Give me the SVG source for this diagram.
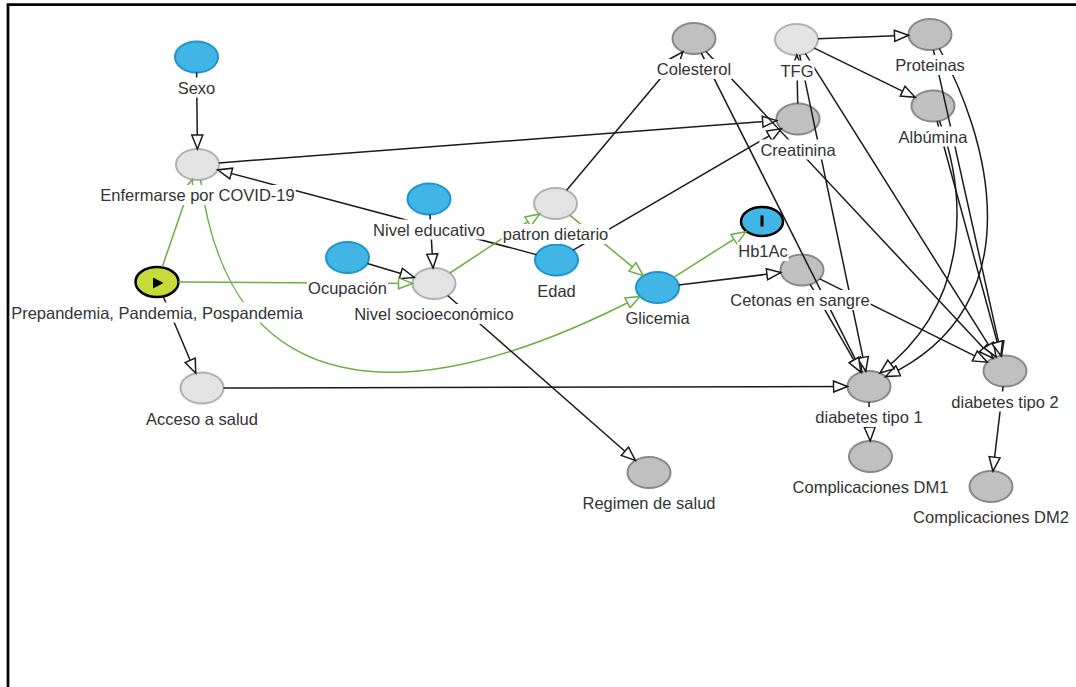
<svg xmlns="http://www.w3.org/2000/svg" width="1076" height="687" viewBox="0 0 1076 687">
<style>
.lbl{font-family:"Liberation Sans",Arial,sans-serif;font-size:16.5px;fill:#333;text-anchor:middle}
.bg{fill:#fff}
.e{fill:none;stroke:#1a1a1a;stroke-width:1.5;marker-end:url(#ab)}
.g{fill:none;stroke:#6aae45;stroke-width:1.5;marker-end:url(#ag)}
.blue{fill:#41b6e6;stroke:#1b95cf;stroke-width:2}
.lg{fill:#e3e3e3;stroke:#b0b0b0;stroke-width:2}
.dg{fill:#c0c0c0;stroke:#888;stroke-width:2}
.exp{fill:#c6da3a;stroke:#000;stroke-width:2.5}
.out{fill:#41b6e6;stroke:#000;stroke-width:2.5}
</style>
<defs>
<marker id="ab" markerUnits="userSpaceOnUse" markerWidth="18" markerHeight="14" refX="15" refY="6.5" orient="auto"><path d="M1,1 L15,6.5 L1,12 Z" fill="#fff" stroke="#1a1a1a" stroke-width="1.5"/></marker>
<marker id="ag" markerUnits="userSpaceOnUse" markerWidth="18" markerHeight="14" refX="15" refY="6.5" orient="auto"><path d="M1,1 L15,6.5 L1,12 Z" fill="#fff" stroke="#6aae45" stroke-width="1.5"/></marker>
</defs>
<rect width="1076" height="687" fill="#fff"/>
<g id="frame" stroke="#000" stroke-width="2.7">
<line x1="6.7" y1="4.7" x2="1076" y2="4.7"/>
<line x1="8" y1="4.7" x2="8" y2="687"/>
</g>
<g id="nodes">
<g id="n-sexo"><ellipse class="blue" cx="196.5" cy="57" rx="21.5" ry="15.5"/></g>
<g id="n-enfermarse"><ellipse class="lg" cx="197.5" cy="164.5" rx="21.5" ry="15.5"/></g>
<g id="n-prepandemia"><ellipse class="exp" cx="157" cy="282" rx="21.5" ry="15"/><path d="M153,277.5 L163.5,283 L153,288.5 Z" fill="#000"/></g>
<g id="n-acceso"><ellipse class="lg" cx="202" cy="388" rx="21.5" ry="15.5"/></g>
<g id="n-niveleducativo"><ellipse class="blue" cx="429" cy="199" rx="21.5" ry="15.5"/></g>
<g id="n-ocupacion"><ellipse class="blue" cx="347.5" cy="257.5" rx="21.5" ry="15.5"/></g>
<g id="n-nse"><ellipse class="lg" cx="434" cy="283.5" rx="21.5" ry="15.5"/></g>
<g id="n-patron"><ellipse class="lg" cx="555.5" cy="203.5" rx="21.5" ry="15.5"/></g>
<g id="n-edad"><ellipse class="blue" cx="556.5" cy="260" rx="21.5" ry="15.5"/></g>
<g id="n-glicemia"><ellipse class="blue" cx="657.5" cy="287.5" rx="21.5" ry="15.5"/></g>
<g id="n-hb1ac"><ellipse class="out" cx="762" cy="221.5" rx="21" ry="14.5"/><rect x="760.5" y="215.5" width="3" height="11" fill="#000"/></g>
<g id="n-cetonas"><ellipse class="dg" cx="802" cy="270" rx="21.5" ry="15.5"/></g>
<g id="n-colesterol"><ellipse class="dg" cx="694" cy="38.5" rx="21.5" ry="15.5"/></g>
<g id="n-tfg"><ellipse class="lg" cx="796.5" cy="39.5" rx="21.5" ry="15.5"/></g>
<g id="n-creatinina"><ellipse class="dg" cx="798" cy="119" rx="21.5" ry="15.5"/></g>
<g id="n-proteinas"><ellipse class="dg" cx="930" cy="34.5" rx="21.5" ry="15.5"/></g>
<g id="n-albumina"><ellipse class="dg" cx="933" cy="106" rx="21.5" ry="15.5"/></g>
<g id="n-dm1"><ellipse class="dg" cx="869" cy="386.5" rx="21.5" ry="15.5"/></g>
<g id="n-dm2"><ellipse class="dg" cx="1005" cy="371" rx="21.5" ry="15.5"/></g>
<g id="n-cdm1"><ellipse class="dg" cx="870.5" cy="456.5" rx="21.5" ry="15.5"/></g>
<g id="n-cdm2"><ellipse class="dg" cx="991" cy="486.5" rx="21.5" ry="15.5"/></g>
<g id="n-regimen"><ellipse class="dg" cx="649" cy="472.5" rx="21.5" ry="15.5"/></g>
</g>
<g id="connectors">
<path class="e" d="M196.6,72.5 L197.4,149"/>
<path class="e" d="M218.9,162.9 L776.6,120.6"/>
<path class="e" d="M536.3,254.6 L217.7,169.9"/>
<path class="e" d="M429.9,214.5 L433.1,268"/>
<path class="e" d="M367.3,263.5 L414.2,277.5"/>
<path class="g" d="M178.5,282.1 L412.5,283.4"/>
<path class="g" d="M162.2,267 L192.3,179.5"/>
<path class="g" d="M200.6,180 C230,400 400,420 640,296.5"/>
<path class="g" d="M449.9,273 L539.6,214"/>
<path class="g" d="M569.7,215.2 L643.3,275.8"/>
<path class="g" d="M673.7,277.3 L745.8,231.7"/>
<path class="e" d="M163.3,296.8 L195.7,373.2"/>
<path class="e" d="M223.5,388 L847.5,386.5"/>
<path class="e" d="M447.6,295.5 L635.4,460.5"/>
<path class="e" d="M566.6,190.2 L682.9,51.8"/>
<path class="e" d="M573.2,250.2 L781.3,128.8"/>
<path class="e" d="M678.7,284.9 L780.8,272.6"/>
<path class="e" d="M701.3,53.1 L861.7,371.9"/>
<path class="e" d="M706,51.4 L993,358.2"/>
<path class="e" d="M797.7,103.5 L796.8,55"/>
<path class="e" d="M818,38.7 L908.5,35.3"/>
<path class="e" d="M814.3,48.2 L915.2,97.3"/>
<path class="e" d="M799.7,54.8 L865.8,371.2"/>
<path class="e" d="M805.4,53.6 L996.1,356.9"/>
<path class="e" d="M810.2,284.3 L860.8,372.2"/>
<path class="e" d="M819.7,278.8 L987.3,362.2"/>
<path class="e" d="M933.4,49.8 L1001.6,355.7"/>
<path class="e" d="M937.1,121.2 L1000.9,355.8"/>
<path class="e" d="M939.3,48.5 C985,130 1040,305 885.5,376.6"/>
<path class="e" d="M939.4,120.8 C965,190 975,300 880,373"/>
<path class="e" d="M869,402 L870.2,441"/>
<path class="e" d="M1003.1,386.4 L992.9,471.1"/>
</g>
<g id="labels">
<g id="l-sexo"><rect class="bg" x="176.7" y="77.5" width="39.6" height="20"/><text class="lbl" x="196.5" y="93.5">Sexo</text></g>
<g id="l-enfermarse"><rect class="bg" x="99.3" y="185" width="196.4" height="20"/><text class="lbl" x="197.5" y="201">Enfermarse por COVID-19</text></g>
<g id="l-prepandemia"><rect class="bg" x="10.2" y="302.5" width="293.6" height="20"/><text class="lbl" x="157" y="318.5">Prepandemia, Pandemia, Pospandemia</text></g>
<g id="l-acceso"><rect class="bg" x="145" y="408.5" width="113.9" height="20"/><text class="lbl" x="202" y="424.5">Acceso a salud</text></g>
<g id="l-niveleducativo"><rect class="bg" x="372" y="219.5" width="113.9" height="20"/><text class="lbl" x="429" y="235.5">Nivel educativo</text></g>
<g id="l-ocupacion"><rect class="bg" x="307" y="278" width="80.9" height="20"/><text class="lbl" x="347.5" y="294">Ocupación</text></g>
<g id="l-nse"><rect class="bg" x="353.2" y="304" width="161.5" height="20"/><text class="lbl" x="434" y="320">Nivel socioeconómico</text></g>
<g id="l-patron"><rect class="bg" x="501.7" y="224" width="107.5" height="20"/><text class="lbl" x="555.5" y="240">patron dietario</text></g>
<g id="l-edad"><rect class="bg" x="536.2" y="280.5" width="40.5" height="20"/><text class="lbl" x="556.5" y="296.5">Edad</text></g>
<g id="l-glicemia"><rect class="bg" x="624.4" y="308" width="66.2" height="20"/><text class="lbl" x="657.5" y="324">Glicemia</text></g>
<g id="l-hb1ac"><rect class="bg" x="737.2" y="242" width="51.5" height="19"/><text class="lbl" x="763" y="257">Hb1Ac</text></g>
<g id="l-cetonas"><rect class="bg" x="729.3" y="290" width="141.4" height="20"/><text class="lbl" x="800" y="306">Cetonas en sangre</text></g>
<g id="l-colesterol"><rect class="bg" x="655.8" y="59" width="76.3" height="20"/><text class="lbl" x="694" y="75">Colesterol</text></g>
<g id="l-tfg"><rect class="bg" x="779.5" y="60.5" width="35" height="20"/><text class="lbl" x="797" y="76.5">TFG</text></g>
<g id="l-creatinina"><rect class="bg" x="759.4" y="139.5" width="77.2" height="20"/><text class="lbl" x="798" y="155.5">Creatinina</text></g>
<g id="l-proteinas"><rect class="bg" x="894.2" y="55" width="71.7" height="20"/><text class="lbl" x="930" y="71">Proteinas</text></g>
<g id="l-albumina"><rect class="bg" x="897.6" y="126.5" width="70.8" height="20"/><text class="lbl" x="933" y="142.5">Albúmina</text></g>
<g id="l-dm1"><rect class="bg" x="814.4" y="407" width="109.3" height="20"/><text class="lbl" x="869" y="423">diabetes tipo 1</text></g>
<g id="l-dm2"><rect class="bg" x="950.4" y="391.5" width="109.3" height="20"/><text class="lbl" x="1005" y="407.5">diabetes tipo 2</text></g>
<g id="l-cdm1"><rect class="bg" x="791.6" y="477" width="157.9" height="20"/><text class="lbl" x="870.5" y="493">Complicaciones DM1</text></g>
<g id="l-cdm2"><rect class="bg" x="912.1" y="506.5" width="157.9" height="20"/><text class="lbl" x="991" y="522.5">Complicaciones DM2</text></g>
<g id="l-regimen"><rect class="bg" x="581.1" y="492.5" width="135.9" height="20"/><text class="lbl" x="649" y="508.5">Regimen de salud</text></g>
</g>
</svg>
